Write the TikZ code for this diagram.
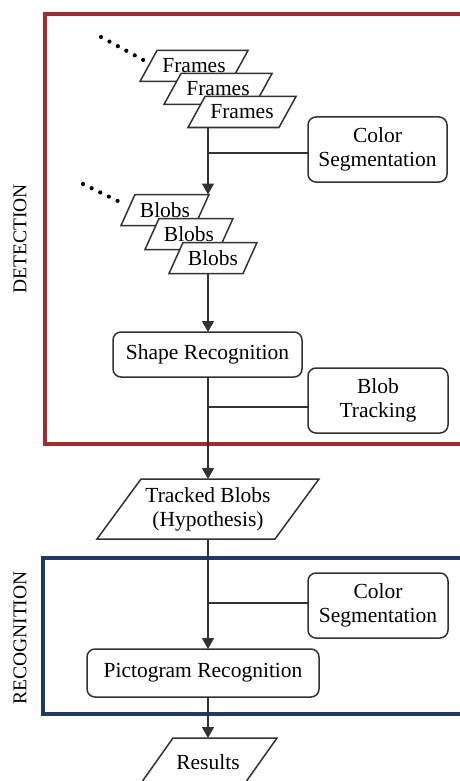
\documentclass[tikz,border=0pt]{standalone}
\usepackage{fontspec}
\setmainfont{Liberation Serif}
\usetikzlibrary{calc,arrows.meta}
\definecolor{detred}{RGB}{165,42,48}
\definecolor{recblue}{RGB}{30,58,105}
\definecolor{ln}{RGB}{50,50,50}
\tikzset{
  txt/.style={font=\fontsize{21.5}{24}\selectfont, text=black, align=center},
  proc/.style={txt, draw=ln, line width=1.5pt, rounded corners=8pt, fill=white, inner sep=0pt, outer sep=0pt},
  dataline/.style={draw=ln, line width=1.5pt, fill=white},
  databody/.style={txt, inner sep=0pt, outer sep=0pt},
  arr/.style={draw=ln, line width=1.5pt, -{Triangle[length=11pt,width=12pt]}},
  conn/.style={draw=ln, line width=1.5pt},
  dotline/.style={draw=black, line width=4.2pt, line cap=round, dash pattern=on 0pt off 9.6pt},
  sidelabel/.style={font=\fontsize{19.5}{22}\selectfont, rotate=90},
  frame/.style={line width=3.8pt}
}
% #1 name, #2 centre, #3 top width, #4 height, #5 slant, #6 text
\newcommand\paranode[6]{%
  \filldraw[dataline] ($(#2)+(-#3/2+#5/2,-#4/2)$) -- ($(#2)+(#3/2+#5/2,-#4/2)$)
     -- ($(#2)+(#3/2-#5/2,#4/2)$) -- ($(#2)+(-#3/2-#5/2,#4/2)$) -- cycle;
  \node[databody, minimum width=#3, minimum height=#4] (#1) at (#2) {#6};
}
\begin{document}
\begin{tikzpicture}[x=1pt,y=-1pt]
\clip (0,0) rectangle (460,781);
\fill[white] (0,0) rectangle (460,781);

% frames
\draw[frame, detred] (45,14) rectangle (490,444);
\draw[frame, recblue] (43,558) rectangle (490,714);
\node[sidelabel] (det) at (20,239) {DETECTION};
\node[sidelabel] (rec) at (20,638) {RECOGNITION};

\coordinate (spine) at (208,0);

% Frames
\coordinate (cf1) at (194,66);
\coordinate (cf2) at (218,89);
\coordinate (cf3) at (242,112);
\coordinate (d1s) at (101,37);
\coordinate (d1e) at (147,62);
\draw[dotline] (d1s) -- (d1e);
\paranode{f1}{cf1}{91}{31}{17}{Frames}
\paranode{f2}{cf2}{91}{31}{17}{Frames}
\paranode{f3}{cf3}{91}{31}{17}{Frames}

\node[proc, minimum width=139, minimum height=65] (cs1) at (377.5,149.5) {Color\\Segmentation};

% Blobs
\coordinate (cb1) at (165,210);
\coordinate (cb2) at (189,234);
\coordinate (cb3) at (213,258);
\coordinate (d2s) at (83,184);
\coordinate (d2e) at (126,205);
\draw[dotline] (d2s) -- (d2e);
\paranode{b1}{cb1}{74}{31}{14}{Blobs}
\paranode{b2}{cb2}{74}{31}{14}{Blobs}
\paranode{b3}{cb3}{74}{31}{14}{Blobs}

\node[proc, minimum width=189, minimum height=45] (sr) at (207.5,354.5) {Shape Recognition};
\node[proc, minimum width=140, minimum height=65] (bt) at (378,400.5) {Blob\\Tracking};

\coordinate (ctb) at (208,509);
\paranode{tb}{ctb}{178}{60}{44}{Tracked Blobs\\(Hypothesis)}

\node[proc, minimum width=140, minimum height=65] (cs2) at (378,605.5) {Color\\Segmentation};
\node[proc, minimum width=232, minimum height=48] (pr) at (203,673) {Pictogram Recognition};

\coordinate (cres) at (208,762);
\paranode{res}{cres}{104}{48}{34}{Results}

% connectors
\coordinate (j1) at (208,153);
\coordinate (j2) at (208,407);
\coordinate (j3) at (208,603);
\draw[arr] (f3.south -| spine) -- (b1.north -| spine);
\draw[conn] (j1) -- (j1 -| cs1.west);
\draw[arr] (b3.south -| spine) -- (sr.north -| spine);
\draw[arr] (sr.south -| spine) -- (tb.north -| spine);
\draw[conn] (j2) -- (j2 -| bt.west);
\draw[arr] (tb.south -| spine) -- (pr.north -| spine);
\draw[conn] (j3) -- (j3 -| cs2.west);
\draw[arr] (pr.south -| spine) -- (res.north -| spine);
\end{tikzpicture}
\end{document}
